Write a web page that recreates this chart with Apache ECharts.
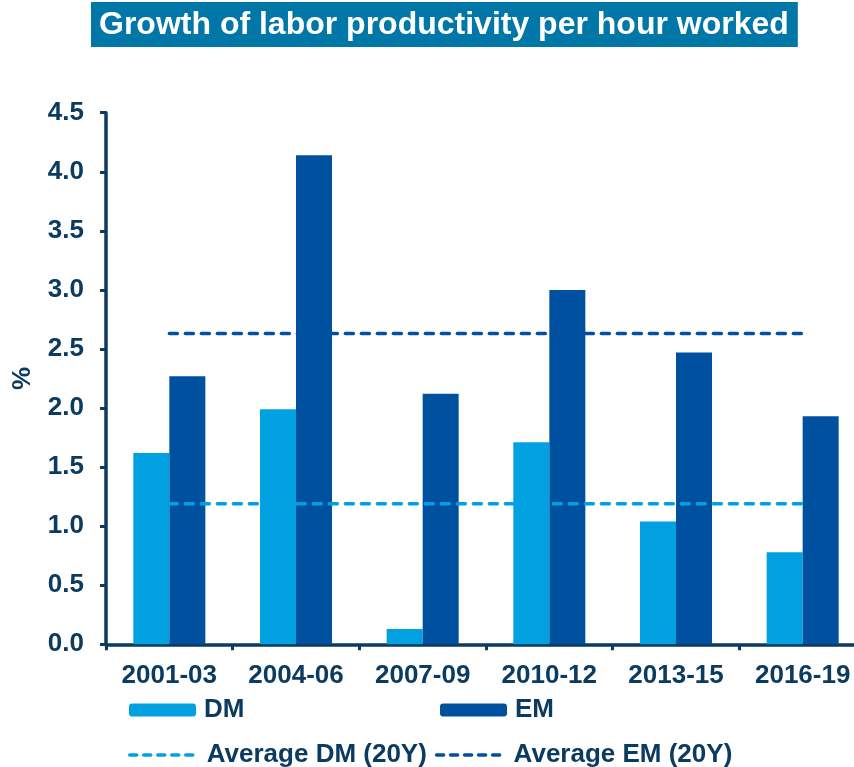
<!DOCTYPE html>
<html>
<head>
<meta charset="utf-8">
<script src="https://cdn.jsdelivr.net/npm/echarts@6/dist/echarts.min.js"></script>
<style>
html,body{margin:0;padding:0;background:#fff;}
#chart{width:854px;height:767px;}
</style>
</head>
<body>
<div id="chart"></div>
<script>
const categories = ['2001-03', '2004-06', '2007-09', '2010-12', '2013-15', '2016-19'];
const dmValues = [1.62, 1.99, 0.13, 1.71, 1.04, 0.78];
const emValues = [2.27, 4.14, 2.12, 3.00, 2.47, 1.93];
const avgDM = [1.19, 1.19, 1.19, 1.19, 1.19, 1.19];
const avgEM = [2.63, 2.63, 2.63, 2.63, 2.63, 2.63];
const titleText = 'Growth of labor productivity per hour worked';
const yName = '%';

const NAVY = '#0b3b60';
const DMC = '#00a0e1';
const EMC = '#0050a0';
const FONT = '"Liberation Sans", Arial, sans-serif';
const FS = 26;

const chart = echarts.init(document.getElementById('chart'), null, {renderer: 'canvas'});
const dash = {width: 3.5, type: [8, 8], cap: 'round'};
const legendText = {color: NAVY, fontFamily: FONT, fontWeight: 'bold', fontSize: FS, lineHeight: 24, padding: [0, 0, 0, 3]};
chart.setOption({
  animation: false,
  backgroundColor: '#fff',
  title: {
    text: titleText,
    left: 91, top: 2,
    backgroundColor: '#0077a6',
    padding: [6, 9, 5, 8],
    textStyle: {color: '#fff', fontFamily: FONT, fontWeight: 'bold', fontSize: 32, lineHeight: 34}
  },
  grid: {left: 106, top: 112.7, width: 760, bottom: 122.7, outerBoundsMode: 'none', containLabel: false},
  legend: [
    {data: ['DM'], left: 129, top: 697, padding: 0, itemWidth: 67, itemHeight: 13, itemGap: 0, textStyle: legendText},
    {data: ['EM'], left: 440, top: 697, padding: 0, itemWidth: 67, itemHeight: 13, itemGap: 0, textStyle: legendText},
    {data: ['Average DM (20Y)', 'Average EM (20Y)'], left: 128, top: 742, padding: 0,
     itemWidth: 69, itemHeight: 14, itemGap: 8, textStyle: legendText,
     lineStyle: {width: 3.5, cap: 'round', type: [7, 7]},
     itemStyle: {color: 'rgba(0,0,0,0)', borderWidth: 0, borderColor: 'rgba(0,0,0,0)'}}
  ],
  xAxis: {
    type: 'category',
    data: categories,
    axisLine: {lineStyle: {color: NAVY, width: 3.5}},
    axisTick: {show: true, length: 6, lineStyle: {color: NAVY, width: 3}},
    axisLabel: {color: NAVY, fontFamily: FONT, fontWeight: 'bold', fontSize: FS, margin: 19}
  },
  yAxis: {
    type: 'value',
    min: 0, max: 4.5, interval: 0.5,
    name: yName,
    nameLocation: 'middle',
    nameGap: 70,
    nameRotate: 90,
    nameTextStyle: {color: NAVY, fontFamily: FONT, fontWeight: 'bold', fontSize: FS},
    axisLine: {show: true, lineStyle: {color: NAVY, width: 3.5}},
    axisTick: {show: true, length: 6, lineStyle: {color: NAVY, width: 3}},
    splitLine: {show: false},
    axisLabel: {color: NAVY, fontFamily: FONT, fontWeight: 'bold', fontSize: FS, margin: 22,
      formatter: v => v.toFixed(1)}
  },
  series: [
    {name: 'DM', type: 'bar', data: dmValues, barWidth: 36, barGap: '0%', itemStyle: {color: DMC}},
    {name: 'EM', type: 'bar', data: emValues, barWidth: 36, barGap: '0%', itemStyle: {color: EMC}},
    {name: 'Average DM (20Y)', type: 'line', data: avgDM, symbol: 'none', z: 5,
     lineStyle: Object.assign({color: DMC}, dash), itemStyle: {color: DMC}},
    {name: 'Average EM (20Y)', type: 'line', data: avgEM, symbol: 'none', z: 5,
     lineStyle: Object.assign({color: EMC}, dash), itemStyle: {color: EMC}}
  ]
});
</script>
</body>
</html>
